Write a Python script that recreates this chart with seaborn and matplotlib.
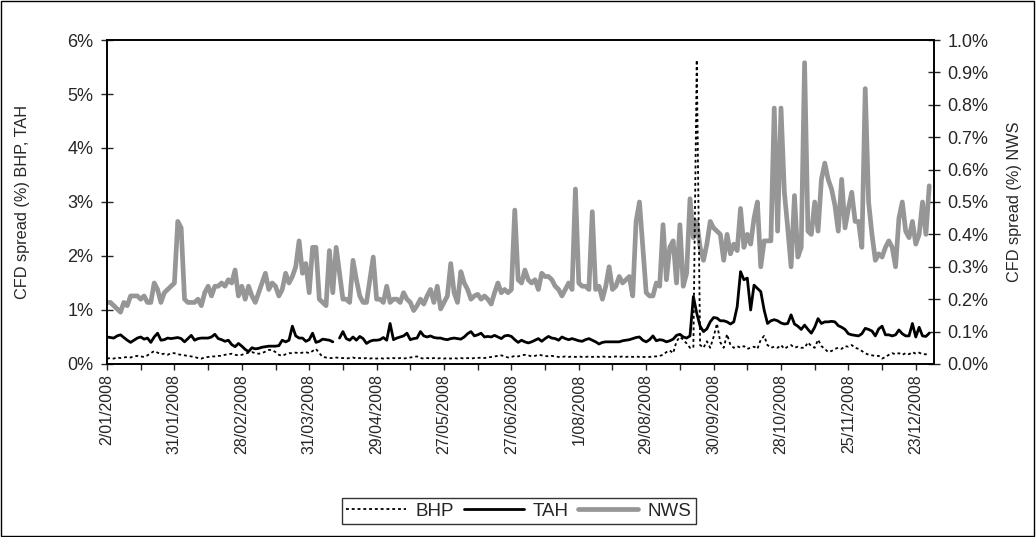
#Grafico de spreads CFD (BHP, TAH en eje izquierdo; NWS en eje derecho)
import numpy as np
import pandas as pd
import matplotlib
matplotlib.use("Agg")
import matplotlib.pyplot as plt
import seaborn as sns
from matplotlib.lines import Line2D
from matplotlib.patches import Rectangle
from matplotlib.ticker import FuncFormatter, MultipleLocator

# etiquetas del eje x (una cada 20 dias de negociacion)
tick_labels = ["2/01/2008", "31/01/2008", "28/02/2008", "31/03/2008", "29/04/2008",
               "27/05/2008", "27/06/2008", "1/08/2008", "29/08/2008", "30/09/2008",
               "28/10/2008", "25/11/2008", "23/12/2008"]

# spread BHP (%) - eje izquierdo
bhp = [0.10, 0.11, 0.10, 0.12, 0.11, 0.12, 0.13, 0.12, 0.14, 0.15,
       0.14, 0.13, 0.16, 0.20, 0.24, 0.21, 0.18, 0.19, 0.17, 0.20,
       0.20, 0.18, 0.17, 0.16, 0.15, 0.14, 0.13, 0.11, 0.10, 0.12,
       0.13, 0.14, 0.14, 0.15, 0.15, 0.17, 0.18, 0.19, 0.17, 0.16,
       0.17, 0.19, 0.21, 0.22, 0.20, 0.19, 0.20, 0.23, 0.26, 0.26,
       0.22, 0.17, 0.15, 0.18, 0.20, 0.20, 0.21, 0.20, 0.21, 0.22,
       0.20, 0.24, 0.28, 0.20, 0.13, 0.12, 0.11, 0.11, 0.12, 0.11,
       0.11, 0.10, 0.11, 0.12, 0.10, 0.11, 0.10, 0.11, 0.10, 0.11,
       0.10, 0.11, 0.10, 0.11, 0.10, 0.11, 0.10, 0.11, 0.10, 0.11,
       0.12, 0.13, 0.14, 0.11, 0.10, 0.11, 0.10, 0.11, 0.10, 0.11,
       0.10, 0.11, 0.10, 0.11, 0.10, 0.11, 0.10, 0.11, 0.10, 0.11,
       0.11, 0.12, 0.11, 0.12, 0.13, 0.14, 0.15, 0.16, 0.14, 0.12,
       0.13, 0.15, 0.14, 0.16, 0.17, 0.16, 0.14, 0.15, 0.17, 0.16,
       0.15, 0.14, 0.15, 0.14, 0.13, 0.13, 0.14, 0.13, 0.14, 0.13,
       0.14, 0.13, 0.13, 0.14, 0.13, 0.14, 0.13, 0.14, 0.13, 0.13,
       0.13, 0.14, 0.13, 0.14, 0.13, 0.14, 0.13, 0.14, 0.13, 0.13,
       0.13, 0.13, 0.14, 0.14, 0.15, 0.17, 0.22, 0.25, 0.20, 0.42,
       0.50, 0.45, 0.38, 0.30, 0.30, 5.63, 0.35, 0.30, 0.42, 0.30,
       0.50, 0.75, 0.40, 0.30, 0.55, 0.35, 0.30, 0.33, 0.30, 0.33,
       0.28, 0.30, 0.32, 0.28, 0.45, 0.52, 0.35, 0.30, 0.32, 0.30,
       0.35, 0.28, 0.32, 0.35, 0.30, 0.32, 0.30, 0.30, 0.40, 0.33,
       0.30, 0.45, 0.33, 0.28, 0.22, 0.24, 0.28, 0.30, 0.28, 0.33,
       0.32, 0.35, 0.30, 0.28, 0.24, 0.20, 0.17, 0.16, 0.15, 0.15,
       0.10, 0.13, 0.17, 0.20, 0.18, 0.20, 0.17, 0.20, 0.18, 0.22,
       0.19, 0.21, 0.18, 0.18, 0.15]

# spread TAH (%) - eje izquierdo (un dato faltante)
tah = [0.50, 0.49, 0.48, 0.52, 0.54, 0.49, 0.44, 0.40, 0.44, 0.48,
       0.50, 0.46, 0.48, 0.40, 0.50, 0.57, 0.44, 0.45, 0.48, 0.47,
       0.48, 0.49, 0.47, 0.41, 0.47, 0.53, 0.44, 0.47, 0.48, 0.48,
       0.48, 0.50, 0.55, 0.47, 0.45, 0.42, 0.44, 0.36, 0.32, 0.38,
       0.33, 0.27, 0.23, 0.30, 0.28, 0.29, 0.31, 0.32, 0.33, 0.33,
       0.33, 0.34, 0.44, 0.41, 0.44, 0.70, 0.52, 0.48, 0.48, 0.42,
       0.45, 0.57, 0.40, 0.42, 0.46, 0.45, 0.44, 0.41, np.nan, 0.48,
       0.60, 0.47, 0.44, 0.50, 0.44, 0.51, 0.47, 0.38, 0.42, 0.44,
       0.44, 0.45, 0.49, 0.44, 0.75, 0.45, 0.48, 0.50, 0.52, 0.57,
       0.45, 0.47, 0.48, 0.60, 0.52, 0.50, 0.52, 0.49, 0.48, 0.48,
       0.46, 0.45, 0.47, 0.48, 0.47, 0.46, 0.50, 0.56, 0.60, 0.52,
       0.54, 0.57, 0.50, 0.51, 0.50, 0.53, 0.50, 0.47, 0.52, 0.53,
       0.51, 0.45, 0.40, 0.44, 0.41, 0.39, 0.41, 0.44, 0.47, 0.42,
       0.47, 0.51, 0.48, 0.47, 0.44, 0.50, 0.47, 0.45, 0.47, 0.45,
       0.43, 0.42, 0.45, 0.47, 0.44, 0.41, 0.37, 0.40, 0.41, 0.41,
       0.41, 0.41, 0.41, 0.43, 0.44, 0.45, 0.47, 0.49, 0.50, 0.44,
       0.41, 0.45, 0.52, 0.43, 0.45, 0.44, 0.41, 0.43, 0.46, 0.53,
       0.55, 0.50, 0.48, 0.52, 1.25, 0.94, 0.70, 0.60, 0.65, 0.78,
       0.86, 0.85, 0.80, 0.80, 0.78, 0.74, 0.78, 1.06, 1.71, 1.56,
       1.59, 1.00, 1.46, 1.40, 1.34, 1.00, 0.75, 0.80, 0.82, 0.80,
       0.76, 0.74, 0.75, 0.91, 0.74, 0.70, 0.64, 0.72, 0.64, 0.57,
       0.68, 0.84, 0.75, 0.78, 0.78, 0.79, 0.78, 0.71, 0.68, 0.64,
       0.56, 0.54, 0.53, 0.52, 0.56, 0.66, 0.64, 0.61, 0.52, 0.65,
       0.70, 0.54, 0.54, 0.52, 0.54, 0.63, 0.56, 0.52, 0.52, 0.75,
       0.50, 0.68, 0.52, 0.51, 0.57]

# spread NWS (%) - eje derecho
nws = [0.19, 0.19, 0.18, 0.17, 0.16, 0.19, 0.18, 0.21, 0.21, 0.21,
       0.20, 0.21, 0.19, 0.19, 0.25, 0.23, 0.19, 0.22, 0.23, 0.24,
       0.25, 0.44, 0.42, 0.20, 0.19, 0.19, 0.19, 0.20, 0.18, 0.22,
       0.24, 0.21, 0.24, 0.24, 0.25, 0.24, 0.26, 0.25, 0.29, 0.21,
       0.24, 0.20, 0.24, 0.21, 0.19, 0.22, 0.25, 0.28, 0.23, 0.25,
       0.24, 0.21, 0.23, 0.28, 0.25, 0.27, 0.30, 0.38, 0.28, 0.31,
       0.22, 0.36, 0.36, 0.20, 0.19, 0.18, 0.35, 0.22, 0.36, 0.28,
       0.20, 0.20, 0.19, 0.32, 0.26, 0.21, 0.19, 0.19, 0.26, 0.33,
       0.20, 0.20, 0.19, 0.24, 0.19, 0.20, 0.20, 0.19, 0.22, 0.20,
       0.19, 0.165, 0.18, 0.20, 0.185, 0.21, 0.23, 0.19, 0.24, 0.17,
       0.19, 0.21, 0.31, 0.22, 0.19, 0.285, 0.25, 0.23, 0.20, 0.21,
       0.215, 0.20, 0.21, 0.20, 0.185, 0.22, 0.25, 0.22, 0.23, 0.22,
       0.23, 0.475, 0.26, 0.25, 0.29, 0.26, 0.25, 0.26, 0.23, 0.28,
       0.27, 0.27, 0.26, 0.24, 0.23, 0.21, 0.23, 0.25, 0.23, 0.54,
       0.25, 0.24, 0.24, 0.23, 0.47, 0.23, 0.24, 0.20, 0.24, 0.30,
       0.23, 0.24, 0.27, 0.25, 0.26, 0.27, 0.21, 0.44, 0.50, 0.36,
       0.22, 0.21, 0.21, 0.25, 0.24, 0.43, 0.26, 0.36, 0.38, 0.25,
       0.43, 0.24, 0.28, 0.51, 0.39, 0.44, 0.36, 0.32, 0.37, 0.44,
       0.42, 0.41, 0.40, 0.32, 0.40, 0.34, 0.37, 0.35, 0.48, 0.36,
       0.40, 0.37, 0.45, 0.50, 0.30, 0.38, 0.38, 0.38, 0.79, 0.41,
       0.79, 0.53, 0.42, 0.30, 0.52, 0.33, 0.36, 0.93, 0.41, 0.40,
       0.50, 0.41, 0.57, 0.62, 0.57, 0.54, 0.49, 0.41, 0.57, 0.42,
       0.48, 0.53, 0.44, 0.44, 0.36, 0.85, 0.50, 0.40, 0.32, 0.34,
       0.33, 0.36, 0.38, 0.36, 0.30, 0.45, 0.50, 0.41, 0.39, 0.44,
       0.37, 0.40, 0.50, 0.40, 0.55]

sns.set_style("ticks")
plt.rcParams["font.family"] = ["Liberation Sans", "DejaVu Sans"]

df = pd.DataFrame({"dia": np.arange(len(nws)), "BHP": bhp, "TAH": tah, "NWS": nws})
# el hueco de TAH separa la serie en dos tramos
df["tramo"] = df["TAH"].isna().cumsum()

fig = plt.figure(figsize=(10.36, 5.37), dpi=100)
ax = fig.add_axes([0.1033, 0.3222, 0.7979, 0.6033])
ax2 = ax.twinx()

sns.lineplot(data=df, x="dia", y="NWS", ax=ax2, color="#969696", lw=3.4)
sns.lineplot(data=df, x="dia", y="BHP", ax=ax, color="black", lw=1.3,
             linestyle=(0, (1.6, 1.6)))
sns.lineplot(data=df.dropna(), x="dia", y="TAH", units="tramo", estimator=None,
             ax=ax, color="black", lw=2.0)

# eje izquierdo por encima del derecho
ax.set_zorder(ax2.get_zorder() + 1)
ax.patch.set_visible(False)

ax.set_xlim(0, 245.3)
ax.set_xticks(range(0, 245, 20))
ax.set_xticklabels(tick_labels, rotation=90, fontsize=11.5)
ax.xaxis.set_minor_locator(MultipleLocator(10))
ax.tick_params(axis="x", which="both", direction="out", length=4.3, width=1, pad=3)

ax.set_ylim(0, 6)
ax.set_yticks(range(0, 7))
ax.yaxis.set_major_formatter(FuncFormatter(lambda v, p: "%d%%" % v))
ax.tick_params(axis="y", direction="inout", length=8.6, width=1, labelsize=13, pad=5.5)

ax2.set_ylim(0, 1.0)
ax2.set_yticks(np.arange(0, 1.01, 0.1))
ax2.yaxis.set_major_formatter(FuncFormatter(lambda v, p: "%.1f%%" % v))
ax2.tick_params(axis="y", direction="inout", length=8.6, width=1, labelsize=13, pad=5.5)

ax.set_xlabel("")
ax.set_ylabel("CFD spread (%) BHP, TAH", fontsize=11.7)
ax2.set_ylabel("CFD spread (%) NWS", fontsize=11.7, rotation=90)
ax.yaxis.set_label_coords(-0.093, 0.5)
ax2.yaxis.set_label_coords(1.089, 0.5)

for a in (ax, ax2):
    for s in a.spines.values():
        s.set_visible(True)
        s.set_color("black")
        s.set_linewidth(1.2)

handles = [Line2D([], [], color="black", lw=1.3, linestyle=(0, (1.6, 1.6))),
           Line2D([], [], color="black", lw=2.0),
           Line2D([], [], color="#969696", lw=3.4)]
leg = fig.legend(handles, ["BHP", "TAH", "NWS"], loc="center", bbox_to_anchor=(0.501, 0.0484),
                 ncol=3, frameon=True, fancybox=False, edgecolor="black", fontsize=13.5,
                 handlelength=3.2, handletextpad=0.5, columnspacing=0.5, borderpad=0.25)
leg.get_frame().set_linewidth(1.0)

# marco del area del grafico
fig.patches.append(Rectangle((0.001, 0.002), 0.997, 0.996, transform=fig.transFigure,
                             fill=False, edgecolor="black", lw=1.0))

plt.savefig("out.png", dpi=100)
